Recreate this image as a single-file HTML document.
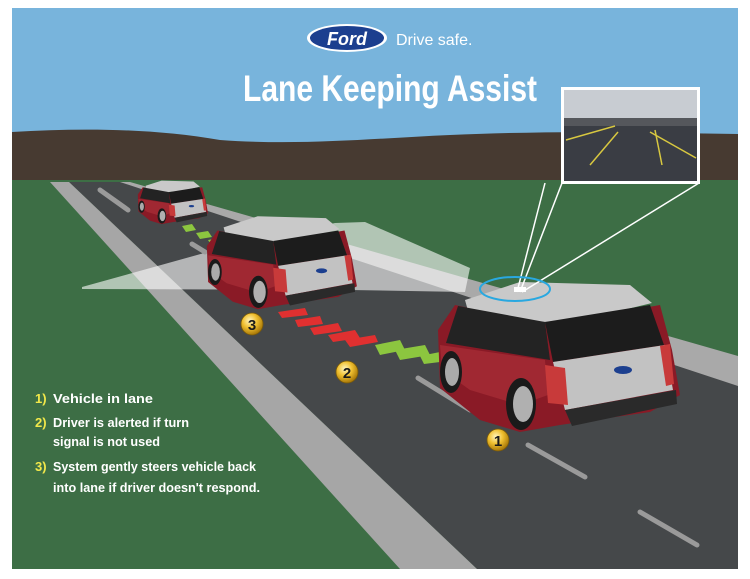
<!DOCTYPE html>
<html><head><meta charset="utf-8"><style>
html,body{margin:0;padding:0;background:#fff;}
svg{display:block;}
text{font-family:"Liberation Sans",sans-serif;font-weight:bold;}
</style></head><body>
<svg width="750" height="579" viewBox="0 0 750 579" xmlns="http://www.w3.org/2000/svg">
<defs>
<radialGradient id="gold" cx="40%" cy="35%" r="65%"><stop offset="0" stop-color="#fff6c0"/><stop offset="0.5" stop-color="#f0c030"/><stop offset="1" stop-color="#a87808"/></radialGradient>
<g id="car">
 <polygon points="438,330 455,305 550,325 660,305 672,350 680,395 650,412 560,425 520,432 480,420 440,388" fill="#8a1a26"/>
 <polygon points="440,345 545,360 548,395 520,405 470,390 442,370" fill="#a02832"/>
 <polygon points="465,300 520,282 630,285 652,303 590,318 540,322 470,318" fill="#c9c9c9"/>
 <polygon points="458,306 545,322 550,360 446,343" fill="#232323"/>
 <polygon points="545,322 650,305 664,345 553,362" fill="#1c1c1c"/>
 <polygon points="553,362 665,345 673,390 565,410" fill="#c2c2c2"/>
 <polygon points="545,365 565,368 568,405 548,403" fill="#c83a3a"/>
 <polygon points="660,346 670,344 674,384 666,386" fill="#c83a3a"/>
 <polygon points="565,410 676,390 677,404 572,426" fill="#2a2a2a"/>
 <ellipse cx="623" cy="370" rx="9" ry="4" fill="#1c3f8f"/>
 <ellipse cx="451" cy="372" rx="11" ry="21" fill="#1a1a1a"/>
 <ellipse cx="452" cy="372" rx="7" ry="14" fill="#aaa"/>
 <ellipse cx="521" cy="404" rx="15" ry="26" fill="#1a1a1a"/>
 <ellipse cx="523" cy="404" rx="10" ry="18" fill="#b0b0b0"/>
</g>
</defs>
<rect width="750" height="579" fill="#fff"/>
<rect x="12" y="8" width="726" height="180" fill="#78b4dc"/>
<path d="M12,132 C80,128 150,128 220,140 C300,146 380,138 450,135 C560,130 650,133 738,134 L738,190 L12,190 Z" fill="#473a31"/>
<rect x="12" y="180" width="726" height="389" fill="#3d6e45"/>
<polygon points="115,182 130,182 738,356 738,395" fill="#a9a9a9"/>
<polygon points="69,182 120,182 738,386 738,569 477,569" fill="#45484a"/>
<polygon points="50,182 69,182 477,569 400,569" fill="#a6a6a6"/>
<polygon points="82,287 215,250 335,223 365,222 470,268 465,292 350,290 82,289" fill="#ffffff" fill-opacity="0.6"/>
<g stroke="#9a9a9a" stroke-width="5" stroke-linecap="round">
 <line x1="100" y1="190" x2="128" y2="210"/>
 <line x1="192" y1="244" x2="205" y2="252"/>
 <line x1="418" y1="378" x2="470" y2="410"/>
 <line x1="528" y1="445" x2="585" y2="477"/>
 <line x1="640" y1="512" x2="697" y2="545"/>
</g>
<g fill="#8cc63f">
 <polygon points="182,226 192,224 196,230 186,232"/>
 <polygon points="196,233 208,231 212,237 200,239"/>
 <polygon points="208,240 220,238 224,244 212,246"/>
 <polygon points="375,345 400,340 405,350 380,355"/>
 <polygon points="395,350 425,345 430,355 400,360"/>
 <polygon points="420,356 440,352 440,362 424,364"/>
</g>
<g fill="#e03030">
 <polygon points="228,291 240,290 242,295 230,296"/>
 <polygon points="248,297 262,296 264,301 250,302"/>
 <polygon points="278,312 305,308 308,315 282,318"/>
 <polygon points="295,320 320,316 323,324 298,327"/>
 <polygon points="310,328 338,323 342,331 314,335"/>
 <polygon points="328,335 355,330 360,338 333,342"/>
 <polygon points="345,340 375,335 378,342 350,347"/>
</g>
<use href="#car" transform="translate(10.8,98.8) scale(0.29)"/>
<use href="#car" transform="translate(-64.7,41.4) scale(0.62)"/>
<use href="#car"/>
<g stroke="#fff" stroke-width="1.5">
 <line x1="517" y1="292" x2="545" y2="183"/>
 <line x1="520" y1="292" x2="562" y2="183"/>
 <line x1="522" y1="292" x2="699" y2="183"/>
</g>
<ellipse cx="515" cy="289" rx="35" ry="12" fill="none" stroke="#29a8e0" stroke-width="2"/>
<rect x="514" y="287" width="12" height="5" fill="#fff"/>
<rect x="561" y="87" width="139" height="97" fill="#fff"/>
<rect x="564" y="90" width="133" height="91" fill="#3a3d44"/>
<rect x="564" y="90" width="133" height="28" fill="#c8ccd2"/>
<rect x="564" y="118" width="133" height="8" fill="#55575c"/>
<g stroke="#d8c840" stroke-width="1.5">
 <line x1="590" y1="165" x2="618" y2="132"/>
 <line x1="655" y1="130" x2="662" y2="165"/>
 <line x1="650" y1="132" x2="696" y2="158"/>
 <line x1="566" y1="140" x2="615" y2="126"/>
</g>
<g font-size="15" text-anchor="middle">
 <circle cx="252" cy="324" r="11" fill="url(#gold)" stroke="#7a5a08" stroke-width="0.8"/><text x="252" y="330" fill="#1a1a1a">3</text>
 <circle cx="347" cy="372" r="11" fill="url(#gold)" stroke="#7a5a08" stroke-width="0.8"/><text x="347" y="378" fill="#1a1a1a">2</text>
 <circle cx="498" cy="440" r="11" fill="url(#gold)" stroke="#7a5a08" stroke-width="0.8"/><text x="498" y="446" fill="#1a1a1a">1</text>
</g>
<ellipse cx="347" cy="38" rx="40" ry="14" fill="#fff"/>
<ellipse cx="347" cy="38" rx="37" ry="12" fill="#1c3f8f"/>
<text x="347" y="45" font-size="18" fill="#fff" text-anchor="middle" font-family="Liberation Serif" font-style="italic">Ford</text>
<text x="396" y="45" font-size="16" fill="#fff" style="font-weight:normal">Drive safe.</text>
<text x="243" y="101" font-size="37" fill="#fff" textLength="294" lengthAdjust="spacingAndGlyphs">Lane Keeping Assist</text>
<g font-size="13">
 <text x="35" y="403" fill="#f2e84a">1)</text><text x="53" y="403" fill="#fff" textLength="100" lengthAdjust="spacingAndGlyphs">Vehicle in lane</text>
 <text x="35" y="427" fill="#f2e84a">2)</text><text x="53" y="427" fill="#fff" textLength="136" lengthAdjust="spacingAndGlyphs">Driver is alerted if turn</text>
 <text x="53" y="446" fill="#fff" textLength="107" lengthAdjust="spacingAndGlyphs">signal is not used</text>
 <text x="35" y="471" fill="#f2e84a">3)</text><text x="53" y="471" fill="#fff" textLength="203" lengthAdjust="spacingAndGlyphs">System gently steers vehicle back</text>
 <text x="53" y="492" fill="#fff" textLength="207" lengthAdjust="spacingAndGlyphs">into lane if driver doesn't respond.</text>
</g>
</svg>
</body></html>
